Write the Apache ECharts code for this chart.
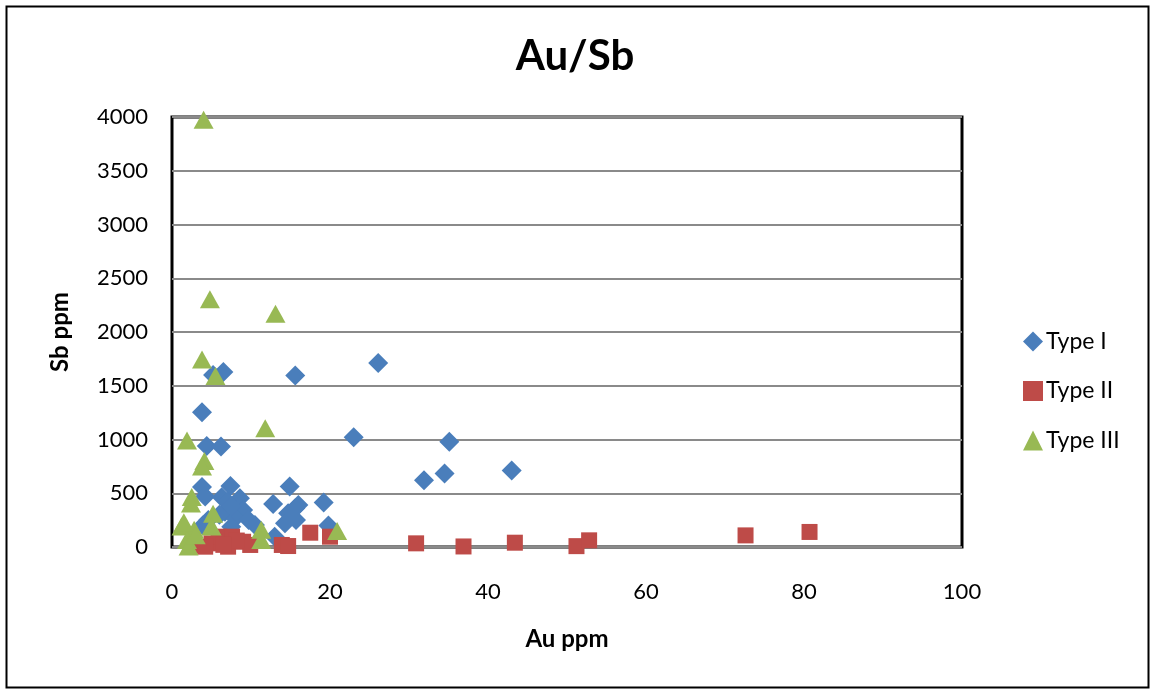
<!DOCTYPE html>
<html>
<head>
<meta charset="utf-8">
<script src="https://cdn.jsdelivr.net/npm/echarts@6/dist/echarts.min.js"></script>
<style>
html,body{margin:0;padding:0;background:#fff;}
#chart{width:1150px;height:689px;}
</style>
</head>
<body>
<div id="chart"></div>
<script>
// Data (Au ppm, Sb ppm)
const typeI = [
  [26.1,1712],[15.6,1595],[6.5,1628],[5.2,1600],[3.8,1253],[4.4,940],[6.2,935],
  [23.0,1022],[35.1,980],[34.5,683],[31.9,620],[43.0,712],[3.8,557],[7.4,567],
  [14.9,563],[6.3,462],[8.6,453],[12.8,400],[16.0,391],[19.2,415],[9.0,344],
  [6.7,329],[8.0,270],[14.7,313],[15.6,360],[14.3,220],[10.5,205],[9.7,251],
  [4.6,251],[19.8,200],[13.0,96],[7.5,189],[3.9,200],[15.7,251],[7.0,420],
  [7.5,380],[6.0,300],[4.2,470]
];
const typeII = [
  [2.7,18],[5.0,34],[5.9,96],[7.6,96],[9.0,49],[9.9,19],[4.2,3],[7.1,3],
  [13.9,19],[14.7,9],[17.5,133],[20.0,96],[30.9,34],[36.9,5],[43.4,40],
  [51.2,8],[52.8,62],[72.6,108],[80.7,140],[8.2,60],[6.5,20]
];
const typeIII = [
  [4.0,3975],[4.8,2305],[13.1,2170],[3.8,1745],[5.5,1590],[11.8,1105],[1.9,990],
  [4.1,800],[3.8,750],[2.5,465],[2.4,405],[5.2,310],[5.0,190],[1.2,190],
  [2.8,160],[1.9,65],[2.1,5],[11.3,160],[11.3,65],[20.9,150],[1.5,230],[3.0,110]
];
const seriesNames = ['Type I','Type II','Type III'];
const titleText = 'Au/Sb';
const xName = 'Au ppm';
const yName = 'Sb ppm';

const FONT = 'Lato, "Open Sans", sans-serif';
const chart = echarts.init(document.getElementById('chart'));
chart.setOption({
  animation: false,
  backgroundColor: '#fff',
  title: {
    text: titleText, left: 'center', top: 30,
    textStyle: {fontFamily: FONT, fontSize: 42, fontWeight: 'bold', color: '#000'}
  },
  graphic: [{
    type: 'rect', left: 4, top: 4, silent: true,
    shape: {width: 1142, height: 681},
    style: {fill: 'none', stroke: '#000', lineWidth: 2}
  }],
  legend: {
    orient: 'vertical', left: 1018, top: 325,
    itemWidth: 20, itemHeight: 20, itemGap: 26.5,
    data: seriesNames,
    textStyle: {fontFamily: FONT, fontSize: 23, color: '#000', padding: [0,0,0,-2]}
  },
  grid: {
    left: 172, top: 117, right: 188, bottom: 142,
    show: true, borderColor: '#000', borderWidth: 3, backgroundColor: '#fff'
  },
  xAxis: {
    type: 'value', min: 0, max: 100, interval: 20,
    name: xName, nameLocation: 'middle', nameGap: 80,
    nameTextStyle: {fontFamily: FONT, fontSize: 24, fontWeight: 'bold', color: '#000'},
    axisLine: {show: false}, axisTick: {show: false}, splitLine: {show: false},
    axisLabel: {fontFamily: FONT, fontSize: 22, color: '#000', margin: 34,
                formatter: v => String(v)}
  },
  yAxis: {
    type: 'value', min: 0, max: 4000, interval: 500,
    name: yName, nameLocation: 'middle', nameGap: 100, nameRotate: 90,
    nameTextStyle: {fontFamily: FONT, fontSize: 24, fontWeight: 'bold', color: '#000'},
    axisLine: {show: false}, axisTick: {show: false},
    splitLine: {show: true, lineStyle: {color: '#8a8a8a', width: 2}},
    axisLabel: {fontFamily: FONT, fontSize: 22, color: '#000', margin: 24,
                formatter: v => String(v)}
  },
  series: [
    {name: seriesNames[0], type: 'scatter', data: typeI, symbol: 'diamond', symbolSize: 20,
     itemStyle: {color: '#4A7EBB', opacity: 1}},
    {name: seriesNames[1], type: 'scatter', data: typeII, symbol: 'rect', symbolSize: 16,
     itemStyle: {color: '#BE4B48', opacity: 1}},
    {name: seriesNames[2], type: 'scatter', data: typeIII, symbol: 'triangle', symbolSize: [20,18],
     itemStyle: {color: '#98B954', opacity: 1}}
  ]
});
</script>
</body>
</html>
